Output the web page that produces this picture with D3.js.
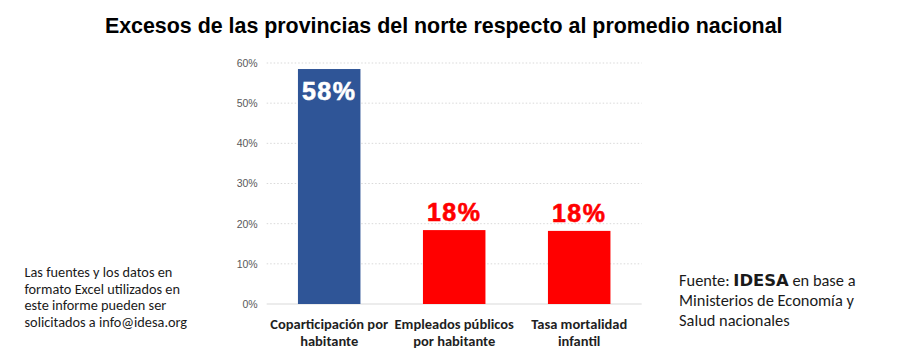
<!DOCTYPE html>
<html><head><meta charset="utf-8">
<script src="https://cdn.jsdelivr.net/npm/d3@7/dist/d3.min.js"></script>
<style>body{margin:0;background:#fff;}svg{display:block;}</style>
</head><body>
<svg id="c" width="914" height="357"></svg>
<script>
const categories = [["Coparticipación por","habitante"],["Empleados públicos","por habitante"],["Tasa mortalidad","infantil"]];
const values = [58.5, 18.4, 18.2];
const labels = ["58%","18%","18%"];
const colors = ["#2F5597","#FF0000","#FF0000"];
const yTicks = [0,10,20,30,40,50,60];
const title = "Excesos de las provincias del norte respecto al promedio nacional";
const leftNote = ["Las fuentes y los datos en","formato Excel utilizados en","este informe pueden ser","solicitados a info@idesa.org"];

const svg = d3.select("#c");
const x = d3.scaleBand().domain(d3.range(values.length)).range([266.7, 641.7]).paddingInner(0.5).paddingOuter(0.25);
const y = d3.scaleLinear().domain([0,60]).range([304, 63]);

svg.append("text").attr("x",443.7).attr("y",33.3).attr("text-anchor","middle")
  .attr("font-family","Liberation Sans, Arial, sans-serif").attr("font-weight","bold").attr("font-size",21.4)
  .attr("fill","#000").text(title);

const yAxis = d3.axisLeft(y).tickValues(yTicks).tickFormat(d=>d+"%").tickSize(0).tickPadding(9);
const gy = svg.append("g").attr("transform","translate(266.7,0)").call(yAxis);
gy.select(".domain").remove();
gy.selectAll("text").attr("font-family","Liberation Sans, Arial, sans-serif").attr("font-size",10.5).attr("fill","#595959");

svg.append("g").selectAll("line").data(yTicks.filter(d=>d>0)).join("line")
  .attr("x1",266.7).attr("x2",641.7).attr("y1",d=>y(d)).attr("y2",d=>y(d))
  .attr("stroke","#d9d9d9").attr("stroke-width",1).attr("stroke-dasharray","1.5,2");
svg.append("line").attr("x1",266.7).attr("x2",641.7).attr("y1",y(0)).attr("y2",y(0)).attr("stroke","#d9d9d9");

svg.append("g").selectAll("rect").data(values).join("rect")
  .attr("x",(d,i)=>x(i)).attr("width",x.bandwidth())
  .attr("y",d=>y(d)).attr("height",d=>y(0)-y(d)).attr("fill",(d,i)=>colors[i]);

svg.append("g").selectAll("text").data(values).join("text")
  .attr("x",(d,i)=>x(i)+x.bandwidth()/2)
  .attr("y",(d,i)=> i===0 ? y(d)+31 : y(d)-9.3)
  .attr("text-anchor","middle").attr("font-family","Liberation Sans, Arial, sans-serif").attr("font-weight","bold")
  .attr("font-size",25).attr("letter-spacing",1.5).attr("stroke",(d,i)=> i===0 ? "#fff" : "#FF0000").attr("stroke-width",0.6)
  .attr("fill",(d,i)=> i===0 ? "#fff" : "#FF0000").text((d,i)=>labels[i]);

const cat = svg.append("g");
categories.forEach((lines,i)=>{
  const t = cat.append("text").attr("text-anchor","middle").attr("font-family","Carlito, Calibri, 'Liberation Sans Narrow', sans-serif")
    .attr("font-weight","bold").attr("font-size",14.5).attr("fill","#1f1f1f");
  lines.forEach((l,j)=>t.append("tspan").attr("x",x(i)+x.bandwidth()/2).attr("y",329+j*16.5).text(l));
});

const ln = svg.append("text").attr("font-family","Carlito, Calibri, 'Open Sans', sans-serif").attr("font-size",14.3).attr("fill","#1a1a1a");
leftNote.forEach((l,j)=>ln.append("tspan").attr("x",24.5).attr("y",276.7+j*16.8).text(l));

const rn = svg.append("text").attr("font-family","Carlito, Calibri, 'Open Sans', sans-serif").attr("font-size",16.4).attr("fill","#1a1a1a");
const t1 = rn.append("tspan").attr("x",679).attr("y",285.7);
t1.text("Fuente: ");
rn.append("tspan").attr("font-family","'DejaVu Sans', Arial, sans-serif").attr("font-weight","900").attr("font-size",16.4).text("IDESA");
rn.append("tspan").text(" en base a");
rn.append("tspan").attr("x",679).attr("y",305.7).text("Ministerios de Economía y");
rn.append("tspan").attr("x",679).attr("y",325.7).text("Salud nacionales");
</script>
</body></html>
